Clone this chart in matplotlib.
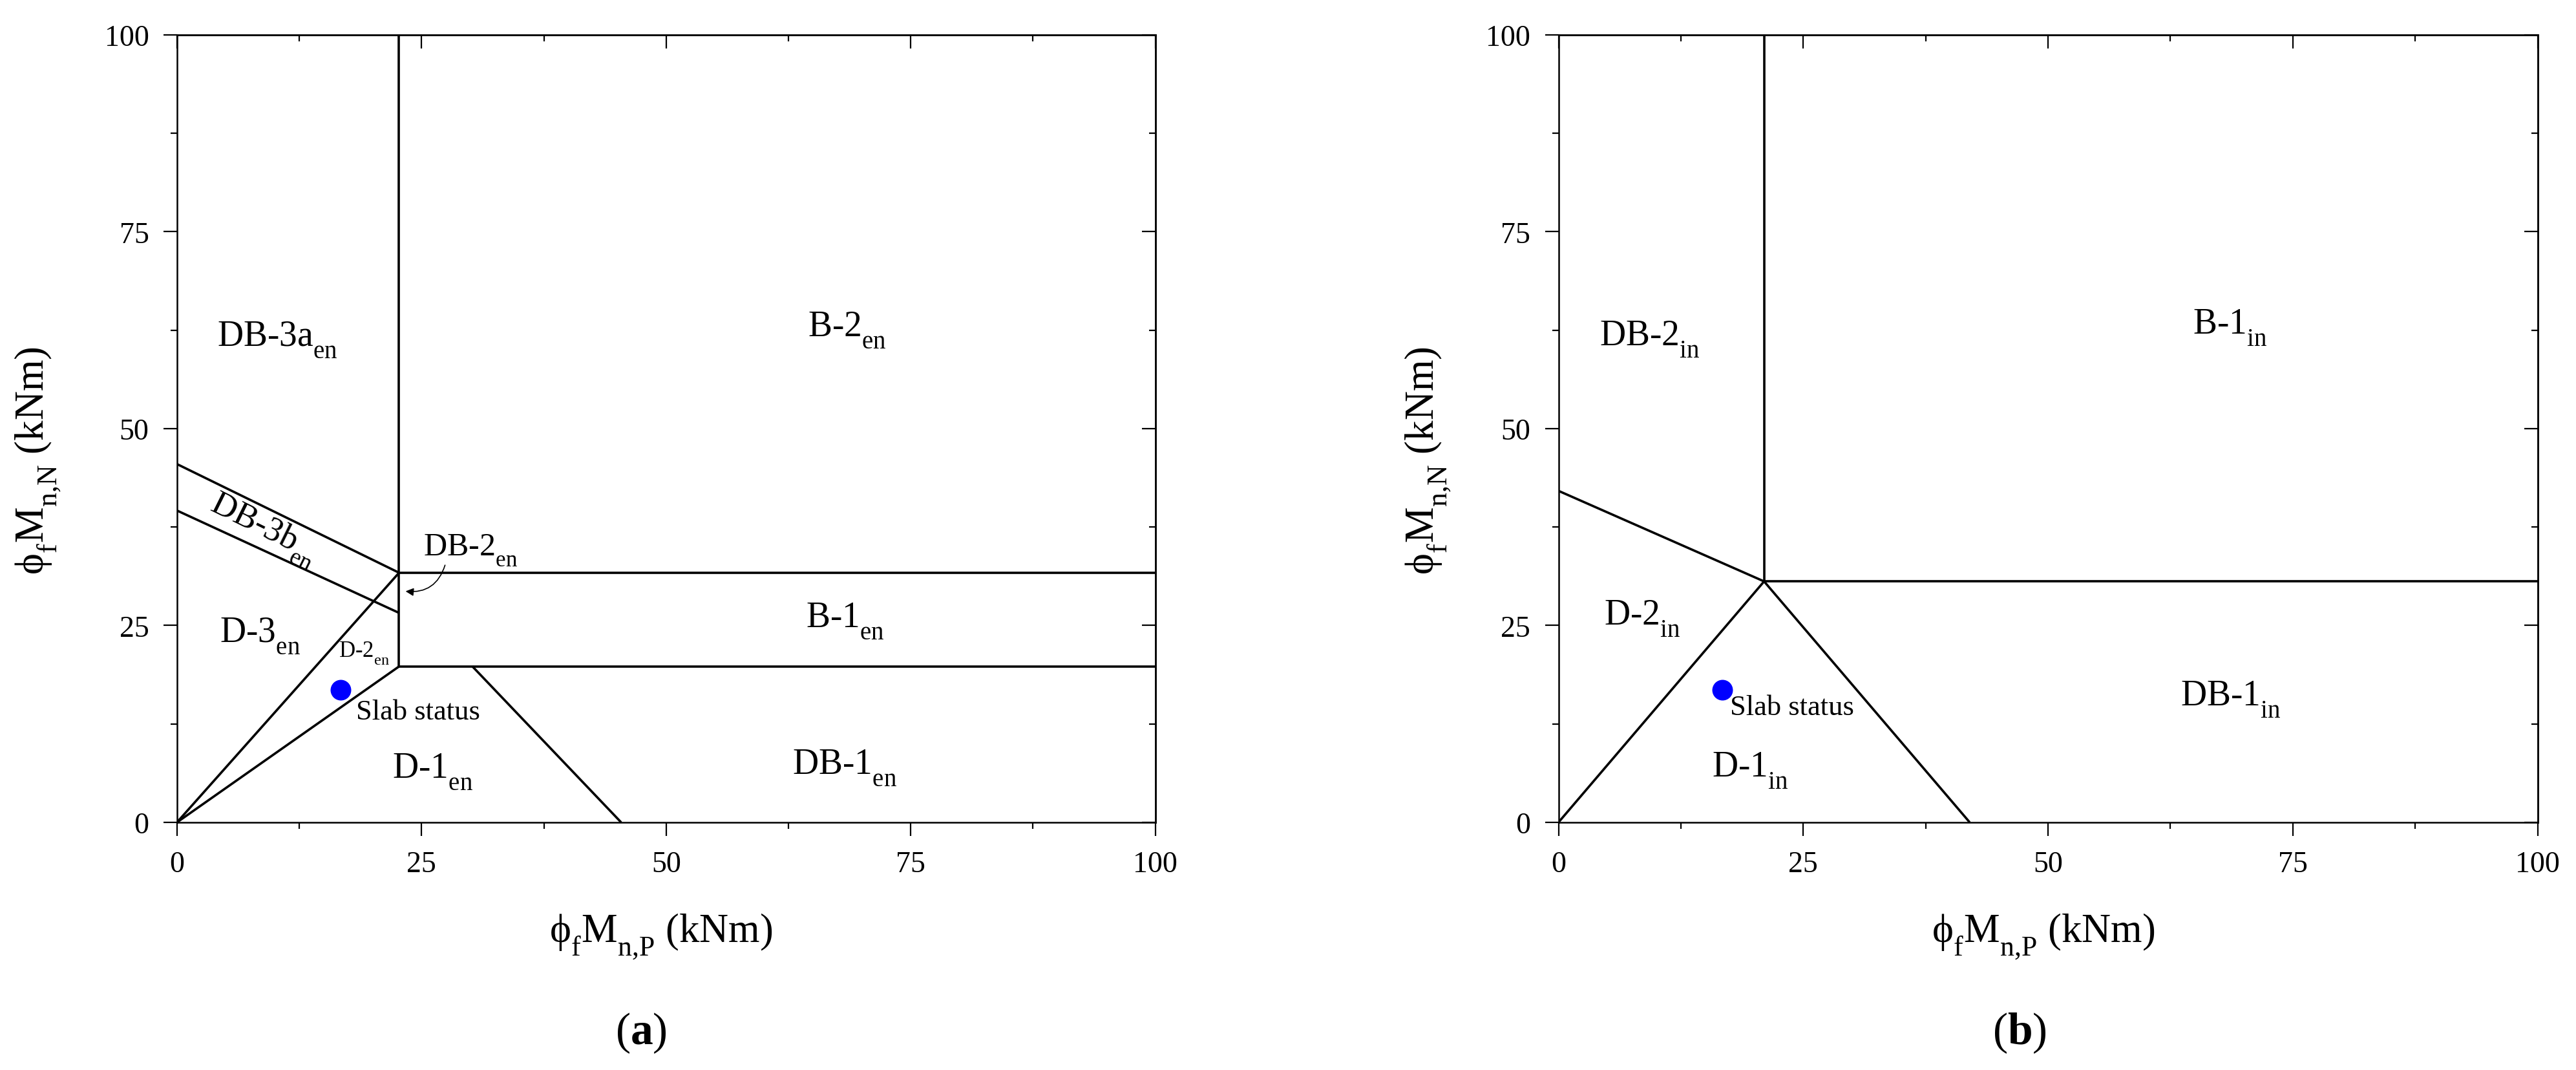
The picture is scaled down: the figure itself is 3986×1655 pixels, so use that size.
import numpy as np
import matplotlib
matplotlib.use("Agg")
import matplotlib.pyplot as plt
from matplotlib.ticker import MultipleLocator

plt.rcParams['font.family'] = ['Liberation Serif', 'DejaVu Serif']
plt.rcParams['mathtext.fontset'] = 'custom'
plt.rcParams['mathtext.rm'] = 'Liberation Serif'
plt.rcParams['mathtext.it'] = 'Liberation Serif:italic'
plt.rcParams['mathtext.bf'] = 'Liberation Serif:bold'

# subscripts in the original sit lower than mathtext's default
try:
    import matplotlib._mathtext as _mt
    _mt.FontConstantsBase.sub1 = 0.75
except Exception:
    pass

# ---- data (kNm) ----
# (a) boundaries, each segment as (x0, x1), (y0, y1)
en_vert = ([22.7, 22.7], [19.8, 100])
en_top = ([22.7, 100], [31.7, 31.7])
en_bot = ([22.7, 100], [19.8, 19.8])
en_db3b_up = ([0, 22.7], [45.5, 31.7])
en_db3b_lo = ([0, 22.7], [39.6, 26.6])
en_diag_up = ([0, 22.7], [0, 31.7])
en_diag_lo = ([0, 22.7], [0, 19.8])
en_slope = ([30.2, 45.4], [19.8, 0])
en_lines = [en_vert, en_top, en_bot, en_db3b_up, en_db3b_lo,
            en_diag_up, en_diag_lo, en_slope]

# (b) boundaries
in_vert = ([21.0, 21.0], [30.6, 100])
in_horiz = ([21.0, 100], [30.6, 30.6])
in_left = ([0, 21.0], [42.1, 30.6])
in_diag = ([0, 21.0], [0, 30.6])
in_slope = ([21.0, 42.0], [30.6, 0])
in_lines = [in_vert, in_horiz, in_left, in_diag, in_slope]

# slab status point
slab_x = [16.7]
slab_y = [16.8]

# region labels: (text, x, y, fontsize)
en_labels = [
    (r'DB-3a$_{\mathrm{en}}$', 4.1, 60.6, 20),
    (r'B-2$_{\mathrm{en}}$', 64.5, 61.9, 20),
    (r'B-1$_{\mathrm{en}}$', 64.3, 24.9, 20),
    (r'DB-1$_{\mathrm{en}}$', 62.9, 6.3, 20),
    (r'D-3$_{\mathrm{en}}$', 4.4, 23.0, 20),
    (r'D-1$_{\mathrm{en}}$', 22.0, 5.8, 20),
    (r'D-2$_{\mathrm{en}}$', 16.5, 21.1, 12.5),
    (r'DB-2$_{\mathrm{en}}$', 25.2, 34.0, 18),
    ('Slab status', 18.3, 13.1, 16),
]
in_labels = [
    (r'DB-2$_{\mathrm{in}}$', 4.2, 60.6, 20),
    (r'B-1$_{\mathrm{in}}$', 64.8, 62.1, 20),
    (r'D-2$_{\mathrm{in}}$', 4.65, 25.2, 20),
    (r'D-1$_{\mathrm{in}}$', 15.7, 5.9, 20),
    (r'DB-1$_{\mathrm{in}}$', 63.5, 14.9, 20),
    ('Slab status', 17.5, 13.7, 16),
]
db3b_label = (r'DB-3b$_{\mathrm{en}}$', 3.25, 39.85, -26.3)
db2_arrow_from = (27.5, 33.1)
db2_arrow_to = (23.0, 29.4)

xlabel = r'ϕ$_{\mathrm{f}}$M$_{\mathrm{n{,}P}}$ (kNm)'
ylabel = r'ϕ$_{\mathrm{f}}$M$_{\mathrm{n{,}N}}$ (kNm)'

fig = plt.figure(figsize=(19.93, 8.28), dpi=200)
ax1 = fig.add_axes([0.0687, 0.2313, 0.3798, 0.7355])
ax2 = fig.add_axes([0.6050, 0.2313, 0.3801, 0.7355])


def style_axes(ax, ylab_x):
    ax.set_xlim(0, 100)
    ax.set_ylim(0, 100)
    for s in ax.spines.values():
        s.set_linewidth(0.9)
    ax.xaxis.set_major_locator(MultipleLocator(25))
    ax.yaxis.set_major_locator(MultipleLocator(25))
    ax.xaxis.set_minor_locator(MultipleLocator(12.5))
    ax.yaxis.set_minor_locator(MultipleLocator(12.5))
    ax.tick_params(which='major', direction='out', length=7.6, width=0.8,
                   labelsize=16.5, pad=8)
    ax.tick_params(which='minor', direction='out', length=3.6, width=0.8)
    top = ax.secondary_xaxis('top')
    right = ax.secondary_yaxis('right')
    for sec, axis in ((top, top.xaxis), (right, right.yaxis)):
        axis.set_major_locator(MultipleLocator(25))
        axis.set_minor_locator(MultipleLocator(12.5))
        sec.tick_params(which='major', direction='in', length=7.6, width=0.8)
        sec.tick_params(which='minor', direction='in', length=3.6, width=0.8)
        sec.tick_params(labeltop=False, labelright=False)
        for s in sec.spines.values():
            s.set_linewidth(0.9)
    ax.set_xlabel(xlabel, fontsize=22.5, va='top')
    ax.set_ylabel(ylabel, fontsize=22.5)
    ax.xaxis.set_label_coords(0.495, -0.113)
    ax.yaxis.set_label_coords(ylab_x, 0.46)


for ax, lines, labels, ylab_x in ((ax1, en_lines, en_labels, -0.117),
                                  (ax2, in_lines, in_labels, -0.108)):
    style_axes(ax, ylab_x)
    for xs, ys in lines:
        ax.plot(xs, ys, color='black', lw=1.3, solid_capstyle='butt')
    ax.plot(slab_x, slab_y, 'o', color='#0000ff', ms=10.5, zorder=5)
    for txt, x, y, fs in labels:
        ax.text(x, y, txt, fontsize=fs, ha='left', va='baseline')

txt, x, y, rot = db3b_label
ax1.text(x, y, txt, fontsize=19, ha='left', va='baseline',
         rotation=rot, rotation_mode='anchor')
ax1.annotate('', xy=db2_arrow_to, xytext=db2_arrow_from,
             arrowprops=dict(arrowstyle='-|>', lw=0.6, color='black',
                             mutation_scale=9,
                             connectionstyle='arc3,rad=-0.45'))

fig.text(992 / 3986, 1 - 1598 / 1656, r'($\mathbf{a}$)', fontsize=25,
         ha='center', va='center')
fig.text(3125 / 3986, 1 - 1598 / 1656, r'($\mathbf{b}$)', fontsize=25,
         ha='center', va='center')

fig.savefig('out.png', dpi=200)
